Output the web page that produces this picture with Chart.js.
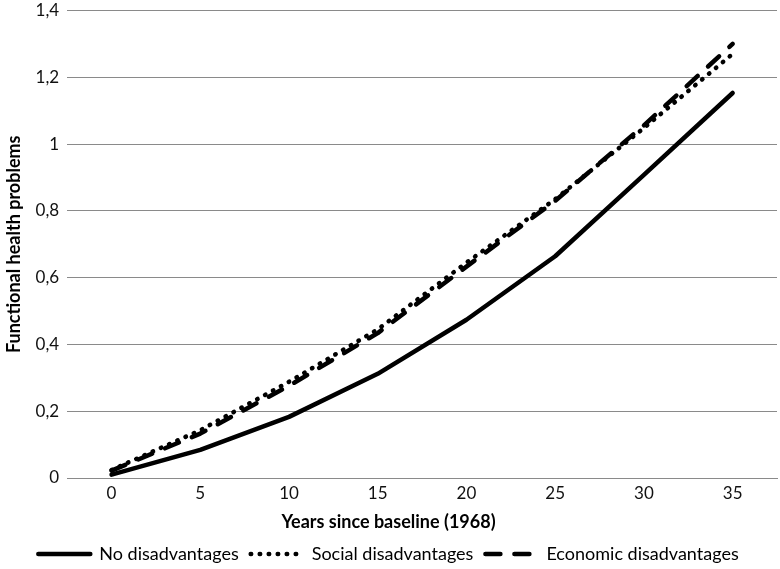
<!DOCTYPE html>
<html lang="en">
<head>
    <meta charset="UTF-8">
    <title>Functional health problems</title>
    <script src="https://cdn.jsdelivr.net/npm/chart.js@4/dist/chart.umd.min.js"></script>
    <style>
        body { margin: 0; background: #fff; overflow: hidden; }
        /* canvas is a little taller and pulled up so the top gridline sits near the edge */
        #chart { display: block; margin-top: -6px; }
    </style>
</head>
<body>
    <canvas id="chart" width="780" height="575"></canvas>

    <script>
        // values
        const years = ['0', '5', '10', '15', '20', '25', '30', '35'];
        const noDisadvantages = [0.01, 0.084, 0.183, 0.312, 0.474, 0.664, 0.908, 1.153];
        const socialDisadvantages = [0.024, 0.143, 0.288, 0.445, 0.645, 0.835, 1.048, 1.27];
        const economicDisadvantages = [0.022, 0.133, 0.276, 0.434, 0.633, 0.83, 1.056, 1.30];
        const yTicks = [0, 0.2, 0.4, 0.6, 0.8, 1, 1.2, 1.4];

        const fontName = 'Lato, "Open Sans", sans-serif';
        const gridGray = '#8a8a8a';

        // comma as decimal separator, like the source
        function commaLabel(v) {
            return String(Math.round(v * 10) / 10).replace('.', ',');
        }

        // legend samples: line with the dataset's own dash pattern
        function legendLabels(chart) {
            return chart.data.datasets.map((ds, i) => ({
                text: ds.label,
                datasetIndex: i,
                fillStyle: ds.borderColor,
                strokeStyle: ds.borderColor,
                fontColor: '#000',
                lineWidth: ds.borderWidth,
                lineDash: ds.borderDash || [],
                lineCap: ds.borderCapStyle,
                pointStyle: 'line',
                hidden: false
            }));
        }

        const ctx = document.getElementById('chart').getContext('2d');
        new Chart(ctx, {
            type: 'line',
            data: {
                labels: years,
                datasets: [
                    {
                        label: 'No disadvantages',
                        data: noDisadvantages,
                        borderColor: '#000',
                        backgroundColor: '#000',
                        borderWidth: 4.5,
                        borderCapStyle: 'round',
                        borderJoinStyle: 'round',
                        pointRadius: 0,
                        tension: 0
                    },
                    {
                        label: 'Social disadvantages',
                        data: socialDisadvantages,
                        borderColor: '#000',
                        backgroundColor: '#000',
                        borderWidth: 4.5,
                        borderDash: [0.5, 8.5],
                        borderCapStyle: 'round',
                        borderJoinStyle: 'round',
                        pointRadius: 0,
                        tension: 0
                    },
                    {
                        label: 'Economic disadvantages',
                        data: economicDisadvantages,
                        borderColor: '#000',
                        backgroundColor: '#000',
                        borderWidth: 4.5,
                        borderDash: [15, 14],
                        borderCapStyle: 'round',
                        borderJoinStyle: 'round',
                        pointRadius: 0,
                        tension: 0
                    }
                ]
            },
            options: {
                responsive: false,
                animation: false,
                layout: { padding: { top: 0, right: 3, bottom: -4, left: 0 } },
                scales: {
                    x: {
                        offset: true,
                        grid: { display: false, drawTicks: false },
                        border: { display: true, color: gridGray, width: 1 },
                        ticks: {
                            color: '#111',
                            padding: 5,
                            font: { family: fontName, size: 17 }
                        }
                    },
                    y: {
                        min: 0,
                        max: 1.4,
                        afterBuildTicks: axis => {
                            axis.ticks = yTicks.map(v => ({ value: v }));
                        },
                        grid: { color: gridGray, lineWidth: 1, drawTicks: false },
                        border: { display: false },
                        ticks: {
                            color: '#111',
                            padding: 8,
                            font: { family: fontName, size: 17, lineHeight: 1 },
                            callback: v => commaLabel(v)
                        },
                        title: {
                            display: true,
                            text: 'Functional health problems',
                            color: '#000',
                            padding: { top: 3, bottom: 3 },
                            font: { family: fontName, size: 18, weight: 'bold' }
                        }
                    }
                },
                plugins: {
                    title: {
                        display: true,
                        position: 'bottom',
                        weight: 500,
                        text: 'Years since baseline (1968)',
                        color: '#000',
                        padding: { top: 3, bottom: 0 },
                        font: { family: fontName, size: 18, weight: 'bold' }
                    },
                    legend: {
                        position: 'bottom',
                        labels: {
                            usePointStyle: true,
                            pointStyle: 'line',
                            pointStyleWidth: 52,
                            padding: 12,
                            color: '#000',
                            font: { family: fontName, size: 18 },
                            generateLabels: legendLabels
                        }
                    },
                    tooltip: { enabled: false }
                }
            }
        });
    </script>
</body>
</html>
